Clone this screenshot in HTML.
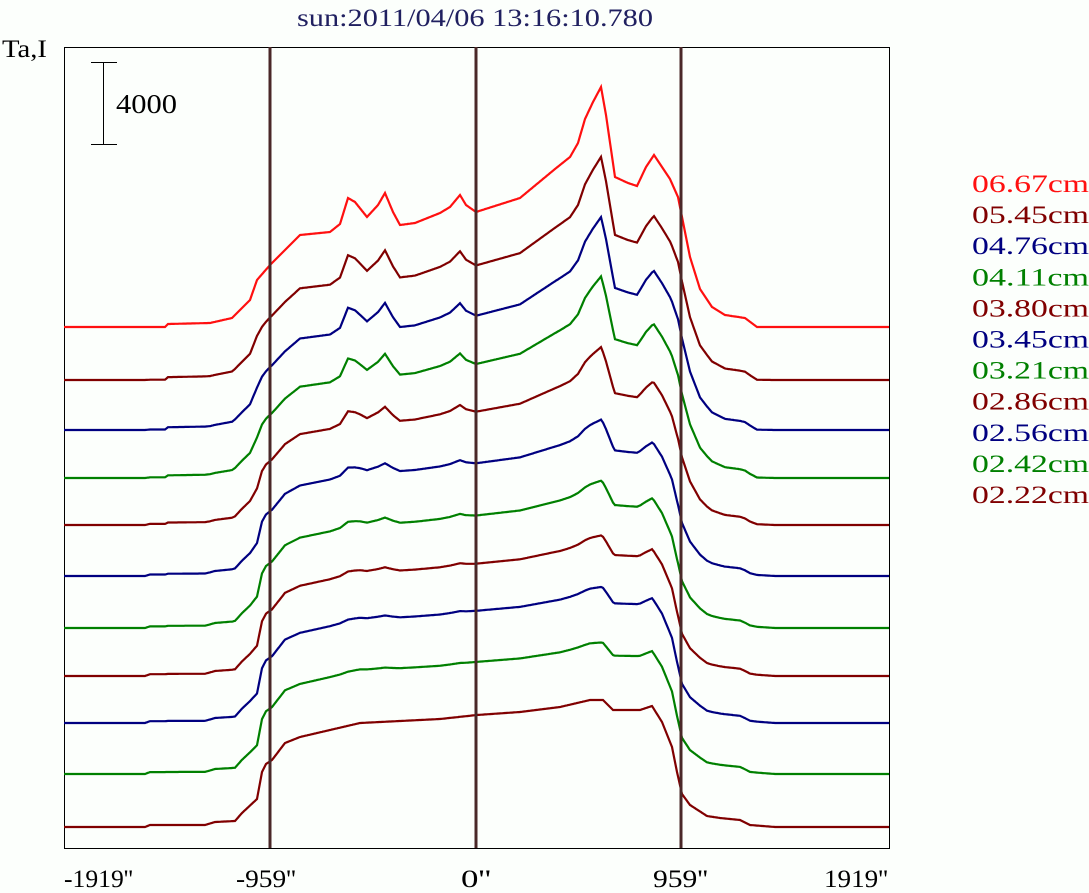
<!DOCTYPE html>
<html><head><meta charset="utf-8"><style>
html,body{margin:0;padding:0;background:#fcfffc;}
svg{display:block;font-family:"Liberation Serif",serif;}
</style></head><body>
<svg id="s" width="1089" height="893" viewBox="0 0 1089 893" xmlns="http://www.w3.org/2000/svg">
<rect width="1089" height="893" fill="#fcfffc"/>
<text x="297" y="26" font-size="25" fill="#202060" textLength="356" lengthAdjust="spacingAndGlyphs">sun:2011/04/06 13:16:10.780</text>
<text x="2" y="57" font-size="25" fill="#000" textLength="45" lengthAdjust="spacingAndGlyphs">Ta,I</text>
<rect x="64.5" y="47.5" width="825" height="801" fill="none" stroke="#000" stroke-width="1"/>
<line x1="103.5" y1="62" x2="103.5" y2="145" stroke="#000"/>
<line x1="91" y1="62.5" x2="117" y2="62.5" stroke="#000"/>
<line x1="91" y1="144.5" x2="117" y2="144.5" stroke="#000"/>
<text x="116" y="113" font-size="27" fill="#000" textLength="61" lengthAdjust="spacingAndGlyphs">4000</text>
<g id="curves"></g>
<line x1="270" y1="47" x2="270" y2="848" stroke="#4a2828" stroke-width="3"/>
<line x1="476" y1="47" x2="476" y2="848" stroke="#4a2828" stroke-width="3"/>
<line x1="681" y1="47" x2="681" y2="848" stroke="#4a2828" stroke-width="3"/>
<g font-size="25" fill="#000">
<text x="64" y="887" textLength="69" lengthAdjust="spacingAndGlyphs">-1919''</text>
<text x="236" y="887" textLength="60" lengthAdjust="spacingAndGlyphs">-959''</text>
<text x="461" y="887" textLength="30" lengthAdjust="spacingAndGlyphs">0''</text>
<text x="653" y="887" textLength="55" lengthAdjust="spacingAndGlyphs">959''</text>
<text x="824" y="887" textLength="64" lengthAdjust="spacingAndGlyphs">1919''</text>
</g>
<g font-size="25" id="leg"></g>
</svg>
<script>
var R=[[64,0],[165,0],[168,3],[210,4],[232,9],[250,27],[257,47],[270,62],[290,82],[300,92],[330,95],[340,103],[348,129],[355,125],[367,110],[378,122],[385,134],[393,115],[400,102],[415,104],[440,114],[450,120],[460,132],[466,122],[476,115],[520,129],[555,158],[570,170],[578,184],[585,208],[593,225],[601,240],[606,212],[615,150],[628,144],[637,141],[646,160],[654,172],[662,160],[670,148],[678,130],[684,100],[690,70],[700,38],[712,20],[725,12],[745,9],[757,0],[889,0]];
var B=[[64,0],[145,0],[150,2],[205,2],[215,5],[235,6],[242,14],[257,28],[262,55],[266,63],[272,67],[285,84],[300,90],[330,97],[360,104],[400,106],[440,108],[477,112],[520,115],[560,120],[590,127],[603,127],[613,117],[640,117],[652,121],[662,105],[672,80],[677,55],[682,33],[690,22],[707,11],[720,9],[740,7],[750,2],[775,0],[889,0]];
function f(P,x){for(var i=1;i<P.length;i++){if(x<=P[i][0]){var a=P[i-1],b=P[i];return a[1]+(b[1]-a[1])*(x-a[0])/(b[0]-a[0]);}}return 0;}
var C={r:"#ff1010",m:"#800000",b:"#000080",g:"#008000"};
var ch=[["06.67cm","r",327,1],["05.45cm","m",380,.85],["04.76cm","b",430,.76],["04.11cm","g",478,.66],["03.80cm","m",525,.45],["03.45cm","b",576,.26],["03.21cm","g",628,.18],["02.86cm","m",676,.12],["02.56cm","b",723,.08],["02.42cm","g",774,.04],["02.22cm","m",827,0]];
var g=document.getElementById("curves"),lg=document.getElementById("leg"),ns="http://www.w3.org/2000/svg";
ch.forEach(function(c,k){var d="";for(var x=64;x<=889;x++){var v=c[3]*f(R,x)+(1-c[3])*f(B,x);d+=(x==64?"M":"L")+x+" "+(c[2]-v).toFixed(1);}
var p=document.createElementNS(ns,"path");p.setAttribute("d",d);p.setAttribute("fill","none");p.setAttribute("stroke",C[c[1]]);p.setAttribute("stroke-width","2.2");g.appendChild(p);
var t=document.createElementNS(ns,"text");t.setAttribute("x","972");t.setAttribute("y",192+k*31.1);t.setAttribute("fill",C[c[1]]);t.setAttribute("textLength","117");t.setAttribute("lengthAdjust","spacingAndGlyphs");t.textContent=c[0];lg.appendChild(t);});
</script>
</body></html>
